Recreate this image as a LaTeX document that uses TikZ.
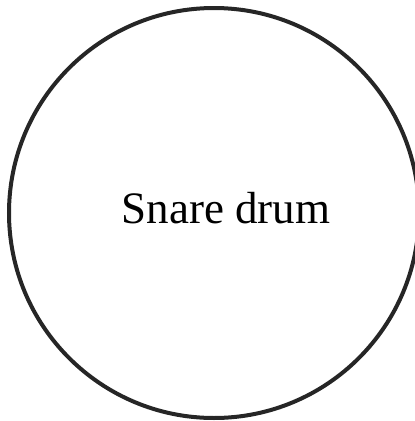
\documentclass[tikz,border=0pt]{standalone}
\usepackage{fontspec}
\setmainfont{Liberation Serif}
\definecolor{ink}{HTML}{262626}
\begin{document}
\begin{tikzpicture}[x=1pt,y=1pt,
  drumstyle/.style={circle,draw=ink,line width=4pt,minimum size=410pt,inner sep=0pt},
  labelstyle/.style={font=\fontsize{45}{54}\selectfont,text=black,inner sep=0pt}]
\useasboundingbox (0,0) rectangle (415,-421);
\node[drumstyle] (drum) at (214,-213) {};
\node[labelstyle,anchor=base] (lbl) at (226,-223) {Snare drum};
\end{tikzpicture}
\end{document}
